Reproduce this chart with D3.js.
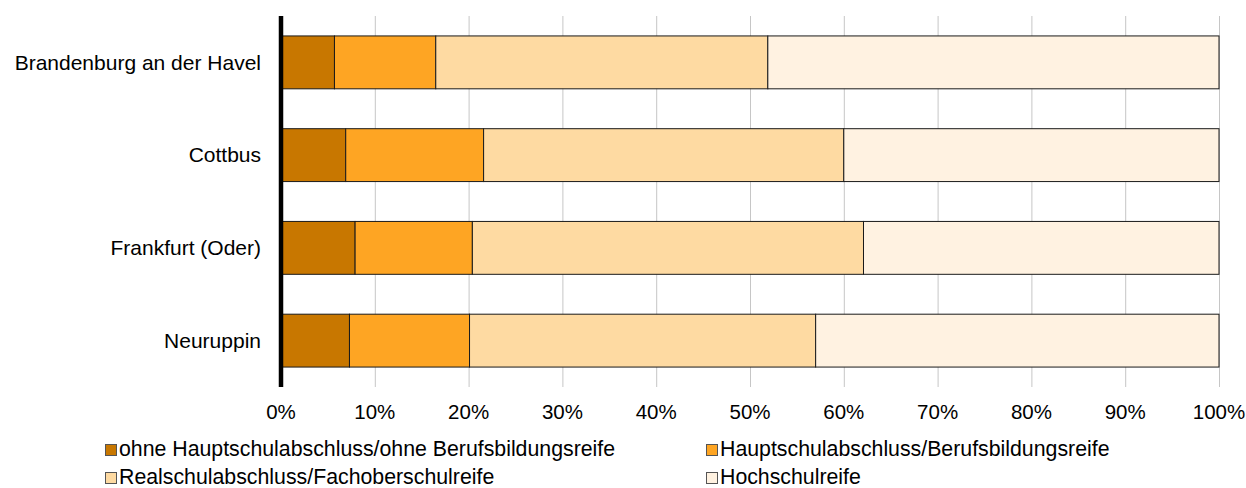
<!DOCTYPE html>
<html>
<head>
<meta charset="utf-8">
<script src="https://cdn.jsdelivr.net/npm/d3@7"></script>
<style>
  body { margin: 0; background: #fff; }
  svg text { font-family: "Liberation Sans", Arial, sans-serif; fill: #000; }
</style>
</head>
<body>
<div id="chart"></div>
<script>
// Categories (top to bottom)
const cities = ['Brandenburg an der Havel', 'Cottbus', 'Frankfurt (Oder)', 'Neuruppin'];

// Series labels
const seriesNames = [
  'ohne Hauptschulabschluss/ohne Berufsbildungsreife',
  'Hauptschulabschluss/Berufsbildungsreife',
  'Realschulabschluss/Fachoberschulreife',
  'Hochschulreife'
];

// Shares in percent, per city (same order as cities)
const ohne = [5.7, 6.9, 7.9, 7.3];
const haupt = [10.8, 14.7, 12.5, 12.8];
const real = [35.4, 38.4, 41.7, 36.9];
const hoch = [48.1, 40.0, 37.9, 43.0];

const ticks = [0, 10, 20, 30, 40, 50, 60, 70, 80, 90, 100];

const colors = ['#c87700', '#fea523', '#fedaa2', '#fff2e1'];

const width = 1246;
const height = 488;
const margin = { top: 16, right: 27, bottom: 101, left: 281 };

const rows = cities.map((c, i) => ({
  city: c,
  vals: [ohne[i], haupt[i], real[i], hoch[i]]
}));

const svg = d3.select('#chart').append('svg')
  .attr('width', width)
  .attr('height', height);

const x = d3.scaleLinear()
  .domain([0, 100])
  .range([margin.left, width - margin.right]);

const y = d3.scaleBand()
  .domain(cities)
  .range([margin.top, height - margin.bottom])
  .paddingInner(0.43)
  .paddingOuter(0.215);

// gridlines
svg.append('g')
  .selectAll('line')
  .data(ticks.slice(1))
  .join('line')
  .attr('x1', d => x(d) + 0.5)
  .attr('x2', d => x(d) + 0.5)
  .attr('y1', margin.top)
  .attr('y2', height - margin.bottom)
  .attr('stroke', '#c6c6c6')
  .attr('stroke-width', 1);

// stacked bars
const stack = svg.append('g');
rows.forEach(r => {
  let acc = 0;
  r.vals.forEach((v, k) => {
    stack.append('rect')
      .attr('x', x(acc))
      .attr('y', y(r.city))
      .attr('width', x(acc + v) - x(acc))
      .attr('height', y.bandwidth())
      .attr('fill', colors[k])
      .attr('stroke', '#1a1a1a')
      .attr('stroke-width', 1);
    acc += v;
  });
});

// left axis line
svg.append('line')
  .attr('x1', x(0))
  .attr('x2', x(0))
  .attr('y1', margin.top)
  .attr('y2', height - margin.bottom)
  .attr('stroke', '#000')
  .attr('stroke-width', 4.5);

// category labels
svg.append('g')
  .selectAll('text')
  .data(cities)
  .join('text')
  .attr('x', 261)
  .attr('y', d => y(d) + y.bandwidth() / 2)
  .attr('dy', '0.35em')
  .attr('text-anchor', 'end')
  .attr('font-size', 21)
  .text(d => d);

// x tick labels
svg.append('g')
  .selectAll('text')
  .data(ticks)
  .join('text')
  .attr('x', d => x(d))
  .attr('y', 418.5)
  .attr('text-anchor', 'middle')
  .attr('font-size', 20.5)
  .text(d => d + '%');

// legend (second row sits right at the bottom edge, as in the original)
const legendPos = [[105, 450], [706, 450], [105, 478], [706, 478]];
const legend = svg.append('g')
  .selectAll('g')
  .data(seriesNames)
  .join('g')
  .attr('transform', (d, i) => `translate(${legendPos[i][0]},${legendPos[i][1]})`);

legend.append('rect')
  .attr('x', 0.5)
  .attr('y', -5.5)
  .attr('width', 11)
  .attr('height', 11)
  .attr('fill', (d, i) => colors[i])
  .attr('stroke', '#555')
  .attr('stroke-width', 1);

legend.append('text')
  .attr('x', 14)
  .attr('y', 5.5)
  .attr('font-size', 21.3)
  .text(d => d);
</script>
</body>
</html>
